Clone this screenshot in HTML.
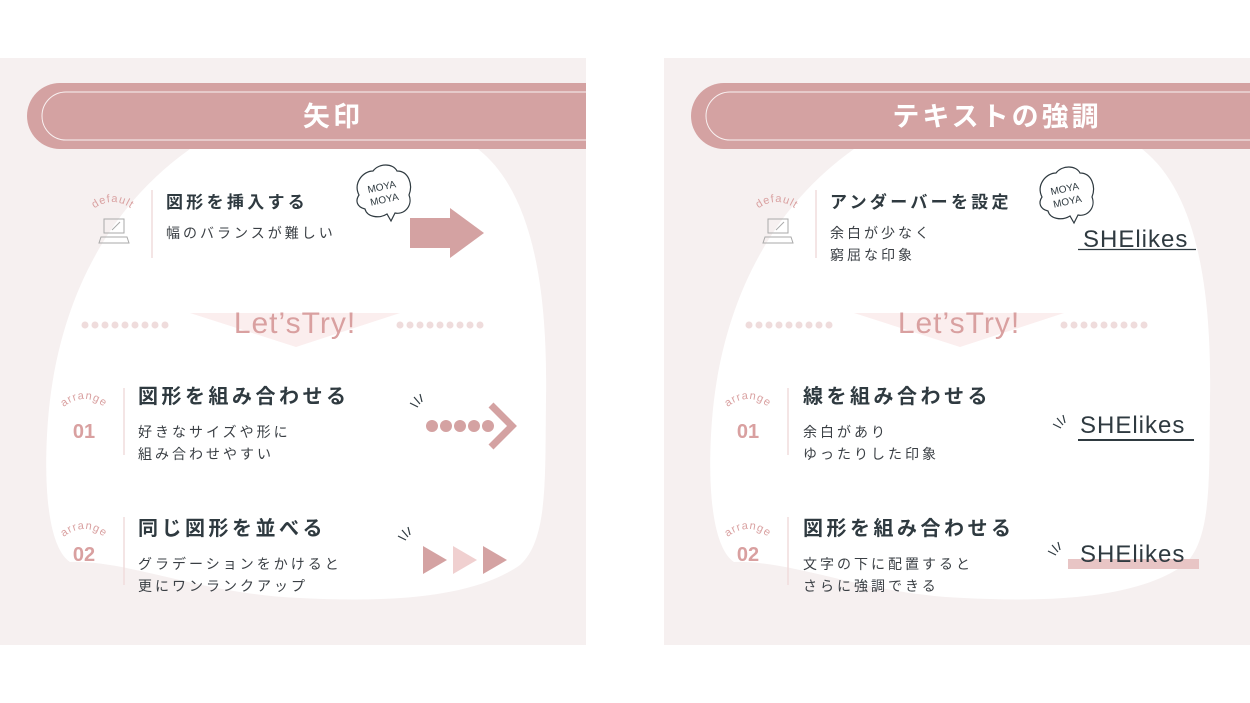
<!DOCTYPE html>
<html><head><meta charset="utf-8"><style>
html,body{margin:0;padding:0;background:#fff;width:1250px;height:703px;overflow:hidden}
svg{display:block}
text{font-family:"Liberation Sans","Noto Sans CJK JP",sans-serif}
.h{font-size:20px;font-weight:bold;fill:#2f3a40;letter-spacing:3.5px}
.h1{font-size:17px;font-weight:bold;fill:#2f3a40;letter-spacing:3.3px}
.s{font-size:14px;fill:#3a3f44;letter-spacing:3px}
.n{font-size:20px;fill:#d9a0a0;font-weight:bold}
.c{font-size:11px;fill:#d9a0a0;letter-spacing:1px}
.lt{font-size:30px;fill:#d9a0a0;letter-spacing:1px}
.sh{font-size:24px;fill:#2f3a40;letter-spacing:1px}
</style></head><body>
<svg width="1250" height="703" viewBox="0 0 1250 703" xmlns="http://www.w3.org/2000/svg">
<defs>
<path id="arcA" d="M58,412 Q84,386 110,412"/>
<path id="arcD" d="M88,214 Q112,190 138,214"/>
<g id="panel">
<rect x="0" y="58" width="586" height="587" fill="#f6f0f0"/>
<path d="M190,149 L478,149 C530,190 548,280 546,400 C545,480 548,540 520,565 C470,600 380,602 300,598 C200,594 130,560 70,562 C45,545 44,470 48,420 C55,330 90,220 190,149 Z" fill="#fff"/>
<path d="M60,83 L586,83 L586,149 L60,149 A33,33 0 0 1 60,83 Z" fill="#d4a2a2"/>
<path d="M66,92 L586,92 M586,140 L66,140 A24,24 0 0 1 66,92" fill="none" stroke="#fff" stroke-width="1" opacity="0.85"/>
<text class="c"><textPath href="#arcD" startOffset="50%" text-anchor="middle">default</textPath></text>
<g fill="none" stroke="#aaa" stroke-width="1"><rect x="104" y="219" width="20" height="14"/><path d="M101,237 L127,237 L129,243 L99,243 Z"/><path d="M112,230 L120,222"/></g>
<line x1="152" y1="190" x2="152" y2="258" stroke="#f0dcdc" stroke-width="1.5"/>
<line x1="124" y1="388" x2="124" y2="455" stroke="#f0dcdc" stroke-width="1.5"/>
<line x1="124" y1="517" x2="124" y2="585" stroke="#f0dcdc" stroke-width="1.5"/>
<path d="M190,313 L400,313 L296,347 Z" fill="#fbeeee"/>
<g fill="#efdcdc">
<circle cx="85" cy="325" r="3.5"/><circle cx="95" cy="325" r="3.5"/><circle cx="105" cy="325" r="3.5"/><circle cx="115" cy="325" r="3.5"/><circle cx="125" cy="325" r="3.5"/><circle cx="135" cy="325" r="3.5"/><circle cx="145" cy="325" r="3.5"/><circle cx="155" cy="325" r="3.5"/><circle cx="165" cy="325" r="3.5"/>
<circle cx="400" cy="325" r="3.5"/><circle cx="410" cy="325" r="3.5"/><circle cx="420" cy="325" r="3.5"/><circle cx="430" cy="325" r="3.5"/><circle cx="440" cy="325" r="3.5"/><circle cx="450" cy="325" r="3.5"/><circle cx="460" cy="325" r="3.5"/><circle cx="470" cy="325" r="3.5"/><circle cx="480" cy="325" r="3.5"/>
</g>
<text class="lt" x="295" y="333" text-anchor="middle">Let’sTry!</text>
<text class="c"><textPath href="#arcA" startOffset="50%" text-anchor="middle">arrange</textPath></text>
<text class="n" x="84" y="438" text-anchor="middle">01</text>
<g transform="translate(0,130)"><text class="c"><textPath href="#arcA" startOffset="50%" text-anchor="middle">arrange</textPath></text></g>
<text class="n" x="84" y="561" text-anchor="middle">02</text>
</g>
<g id="moya">
<path d="M-24,2 C-30,-10 -20,-22 -10,-22 C-4,-30 10,-30 14,-22 C26,-22 30,-8 26,2 C30,12 22,22 12,20 L8,28 L4,21 C-4,26 -16,24 -18,16 C-26,14 -28,8 -24,2 Z" fill="#fff" stroke="#2f3a40" stroke-width="1.2"/>
<text x="0" y="-3" text-anchor="middle" font-size="10" fill="#2f3a40" transform="rotate(-12)">MOYA</text>
<text x="0" y="10" text-anchor="middle" font-size="10" fill="#2f3a40" transform="rotate(-12)">MOYA</text>
</g>
<g id="spark" stroke="#2f3a40" stroke-width="1.2"><line x1="0" y1="0" x2="8" y2="4"/><line x1="4" y1="-6" x2="10" y2="1"/><line x1="10" y1="-9" x2="12" y2="-1"/></g>
</defs>

<use href="#panel"/>
<use href="#panel" x="664"/>

<text x="333" y="126" text-anchor="middle" font-size="27" font-weight="bold" fill="#fff" letter-spacing="3">矢印</text>
<text class="h1" x="166" y="208">図形を挿入する</text>
<text class="s" x="166" y="238">幅のバランスが難しい</text>
<use href="#moya" x="383" y="193"/>
<rect x="410" y="218" width="42" height="30" fill="#d4a2a2"/>
<path d="M450,208 L484,233 L450,258 Z" fill="#d4a2a2"/>
<text class="h" x="138" y="403">図形を組み合わせる</text>
<text class="s" x="138" y="437">好きなサイズや形に</text>
<text class="s" x="138" y="459">組み合わせやすい</text>
<use href="#spark" x="410" y="403"/>
<g fill="#d4a2a2"><circle cx="432" cy="426" r="6"/><circle cx="446" cy="426" r="6"/><circle cx="460" cy="426" r="6"/><circle cx="474" cy="426" r="6"/><circle cx="488" cy="426" r="6"/></g>
<path d="M491,405 L512,426 L491,447" fill="none" stroke="#d4a2a2" stroke-width="7"/>
<text class="h" x="138" y="535">同じ図形を並べる</text>
<text class="s" x="138" y="569">グラデーションをかけると</text>
<text class="s" x="138" y="591">更にワンランクアップ</text>
<use href="#spark" x="398" y="536"/>
<path d="M423,546 L447,560 L423,574 Z" fill="#d4a2a2"/>
<path d="M453,546 L477,560 L453,574 Z" fill="#f0d0d0"/>
<path d="M483,546 L507,560 L483,574 Z" fill="#d4a2a2"/>

<text x="997" y="126" text-anchor="middle" font-size="27" font-weight="bold" fill="#fff" letter-spacing="3">テキストの強調</text>
<text class="h1" x="830" y="208">アンダーバーを設定</text>
<text class="s" x="830" y="238">余白が少なく</text>
<text class="s" x="830" y="260">窮屈な印象</text>
<use href="#moya" x="1066" y="195"/>
<text class="sh" x="1083" y="247">SHElikes</text>
<line x1="1078" y1="249.5" x2="1196" y2="249.5" stroke="#2f3a40" stroke-width="1.2"/>
<text class="h" x="803" y="403">線を組み合わせる</text>
<text class="s" x="803" y="437">余白があり</text>
<text class="s" x="803" y="459">ゆったりした印象</text>
<use href="#spark" x="1053" y="424"/>
<text class="sh" x="1080" y="433">SHElikes</text>
<line x1="1078" y1="440" x2="1194" y2="440" stroke="#2f3a40" stroke-width="2"/>
<text class="h" x="803" y="535">図形を組み合わせる</text>
<text class="s" x="803" y="569">文字の下に配置すると</text>
<text class="s" x="803" y="591">さらに強調できる</text>
<use href="#spark" x="1048" y="551"/>
<rect x="1068" y="559" width="131" height="10" fill="#e8c5c5"/>
<text class="sh" x="1080" y="562">SHElikes</text>
</svg>
</body></html>
